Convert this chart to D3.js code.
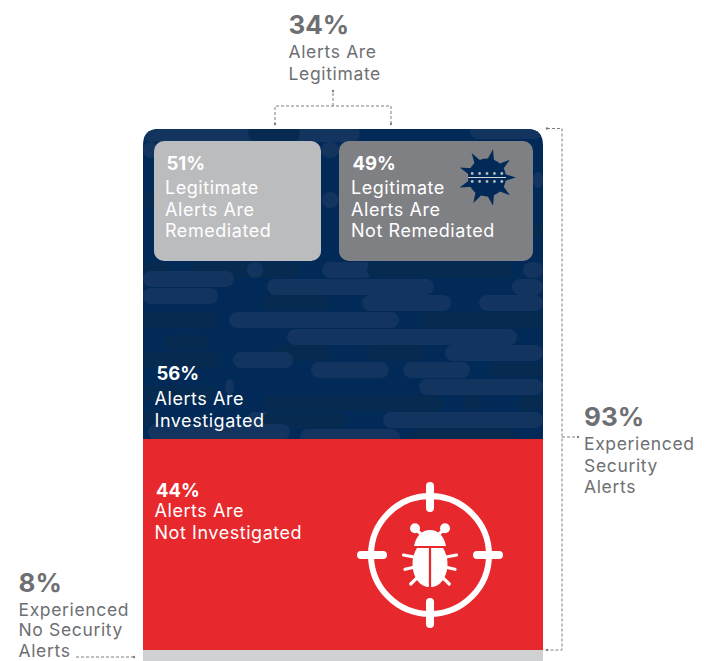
<!DOCTYPE html>
<html><head><meta charset="utf-8">
<script src="https://cdn.jsdelivr.net/npm/d3@7"></script>
<style>html,body{margin:0;padding:0;background:#fff}svg{display:block}text{font-family:Inter,"Open Sans",sans-serif}</style>
</head><body><svg id="c" width="710" height="661"></svg>
<script>
// values
const outerLabels = ["Experienced No Security Alerts", "Experienced Security Alerts"];
const outerValues = [8, 93];
const triageLabels = ["Alerts Are Not Investigated", "Alerts Are Investigated"];
const triageValues = [44, 56];
const investigatedLegit = 34;
const legitLabels = ["Legitimate Alerts Are Remediated", "Legitimate Alerts Are Not Remediated"];
const legitValues = [51, 49];
const barColors = ["#d0d1d3", "#e7282d", "#012a58"];
const cardColors = ["#bbbcbe", "#7f8084"];
const gray = "#6e6f73";

// decorative background pills: [x0, x1, row centre, tone]
const pills = [
 [143,360,134,1],[248,300,134,0],[470,543,131,1],
 [143,158,150,1],[321,339,150,1],[338,365,150,1],
 [143,158,200,0],[322,339,200,1],[533,543,180,1],[533,543,230,0],
 [143,172,270,0],[190,300,270,0],[247,263,270,1],[322,373,270,1],[367,512,270,0],[523,543,270,1],
 [143,234,279,1],[267,434,287,1],[512,543,287,1],
 [143,218,296,1],[263,329,303,0],[362,451,303,1],[479,543,303,1],
 [143,219,320,0],[229,399,320,1],[420,543,320,0],
 [287,517,337,1],[163,210,343,0],
 [273,332,353,0],[367,424,353,0],[445,543,353,1],
 [143,222,360,0],[233,293,360,1],
 [311,389,370,1],[403,470,370,1],[489,543,370,0],
 [419,543,387,1],[143,215,393,0],[225,234,387,1],
 [262,444,403,0],[465,482,403,0],[517,543,403,0],
 [383,543,420,1],[143,163,420,0],[247,302,420,1],[263,347,420,0],
 [148,290,432,1],[300,400,437,1],[410,516,437,0]
];
const spikeAngles = [-122,-78,-38,0,38,78,118,160,200];

const svg = d3.select("#c");
const defs = svg.append("defs");

// stacked bar with piecewise scale (the reference is a diagram, not to scale)
const shareRed = outerValues[1] * triageValues[0] / 100;
const y = d3.scaleLinear()
  .domain([0, outerValues[0], outerValues[0] + shareRed, d3.sum(outerValues)])
  .range([661, 650, 439, 129]);
const x = d3.scaleLinear().domain([0, 100]).range([143, 543]);
const cardX = d3.scaleLinear().domain([0, legitValues[0], 100]).range([154, 330, 533]);

const segs = [
 {a:0, b:outerValues[0], c:barColors[0]},
 {a:outerValues[0], b:outerValues[0]+shareRed, c:barColors[1]},
 {a:outerValues[0]+shareRed, b:d3.sum(outerValues), c:barColors[2]}
];
const r = 16;
const navyPath = d => {
  const x0=x(0),x1=x(100),t=y(d.b),b=y(d.a);
  return `M${x0},${b}V${t+r}Q${x0},${t} ${x0+r},${t}H${x1-r}Q${x1},${t} ${x1},${t+r}V${b}Z`;
};
defs.append("clipPath").attr("id","navy").append("path").attr("d", navyPath(segs[2]));

svg.append("g").selectAll("rect").data(segs.slice(0,2)).join("rect")
  .attr("x", x(0)).attr("width", x(100)-x(0))
  .attr("y", d=>y(d.b)).attr("height", d=>y(d.a)-y(d.b)).attr("fill", d=>d.c);
svg.append("path").attr("d", navyPath(segs[2])).attr("fill", barColors[2]);

const tones = ["#072a50", "#12345e"];
svg.append("g").attr("clip-path","url(#navy)").selectAll("rect").data(pills).join("rect")
  .attr("x", d=>d[0]).attr("width", d=>d[1]-d[0]).attr("y", d=>d[2]-8).attr("height",16)
  .attr("rx",8).attr("fill", d=>tones[d[3]]);

// cards
const cards = [
 {x0:cardX(0), x1:321, c:cardColors[0]},
 {x0:339, x1:cardX(100), c:cardColors[1]}
];
svg.append("g").selectAll("rect").data(cards).join("rect")
  .attr("x", d=>d.x0).attr("width", d=>d.x1-d.x0).attr("y",141).attr("height",120)
  .attr("rx",10).attr("fill", d=>d.c);

// text helper
function label(px, lines, opt) {
  const g = svg.append("g");
  g.append("text").attr("x", px + (opt.pctDx||0)).attr("y", opt.y)
    .attr("font-size", opt.pctSize).attr("font-weight",700).attr("fill", opt.color).text(opt.pct);
  lines.forEach((t,i)=> g.append("text").attr("x",px).attr("y",opt.y2 + i*opt.lh)
    .attr("font-size", opt.size).attr("letter-spacing", opt.ls).attr("fill",opt.color).text(t));
}
const pct = v => v + "%";
const W = {pctSize:18.5, size:18, color:"#fff", lh:21.5, ls:0.55};
const G = {pctSize:26, size:17.5, color:gray, ls:0.65};
label(288.5, ["Alerts Are","Legitimate"], {...G, pct:pct(investigatedLegit), y:34, y2:58, lh:22});
label(165, ["Legitimate","Alerts Are","Remediated"], {...W, pct:pct(legitValues[0]), pctDx:1.5, y:169.5, y2:194});
label(351, ["Legitimate","Alerts Are","Not Remediated"], {...W, pct:pct(legitValues[1]), pctDx:1.5, y:169.5, y2:194});
label(154.5, ["Alerts Are","Investigated"], {...W, pct:pct(triageValues[1]), pctDx:2, y:380, y2:405});
label(154.5, ["Alerts Are","Not Investigated"], {...W, pct:pct(triageValues[0]), pctDx:1.5, y:497, y2:517});
label(584, ["Experienced","Security","Alerts"], {...G, pct:pct(outerValues[1]), y:426, y2:450, lh:21.5});
label(18.5, ["Experienced","No Security","Alerts"], {...G, pct:pct(outerValues[0]), y:592, y2:615.5, lh:20.7});

// leaders
const dash = svg.append("g").attr("fill","none").attr("stroke","#7d7e81").attr("stroke-width",1).attr("stroke-dasharray","3 2");
dash.append("path").attr("d","M275,125V106H391V125");
dash.append("path").attr("d","M333,106V91");
dash.append("path").attr("d","M547,128.5H562V650H547");
dash.append("path").attr("d","M562,437H578");
dash.append("path").attr("d","M76,657H134");
svg.append("g").attr("fill","#7d7e81").selectAll("circle")
  .data([[275,124],[391,124],[333,91],[547,128.5],[578,437],[134,657],[547,650]]).join("circle")
  .attr("cx",d=>d[0]).attr("cy",d=>d[1]).attr("r",1.2);

// target + bug
const target = svg.append("g").attr("transform","translate(430,555)");
target.append("circle").attr("r",59).attr("fill","none").attr("stroke","#fff").attr("stroke-width",6);
target.selectAll("line.t").data([0,90,180,270]).join("line").attr("class","t")
  .attr("transform",d=>`rotate(${d})`).attr("y1",-47).attr("y2",-69)
  .attr("stroke","#fff").attr("stroke-width",8).attr("stroke-linecap","round");
[-1,1].forEach(s=>{
  const g = target.append("g").attr("transform",`scale(${s},1)`).attr("fill","#fff").attr("stroke","#fff");
  g.append("path").attr("stroke","none").attr("d","M1.1,-7H13C15.5,-3 17.5,2 17.5,9C17.5,22 10,32 1.1,32Z");
  g.append("circle").attr("cx",15).attr("cy",-26.7).attr("r",5).attr("stroke","none");
  [[15,-26.7,7,-19],[26.5,0,15,2.3],[25,14.3,16,12.3],[19.3,29,11.7,21.7]].forEach(p=>
    g.append("line").attr("x1",p[0]).attr("y1",p[1]).attr("x2",p[2]).attr("y2",p[3]).attr("stroke-width",3.2).attr("stroke-linecap","round"));
});
target.append("path").attr("fill","#fff").attr("d","M-16,-9C-14,-19 -8,-25 0,-25C8,-25 14,-19 16,-9Z");

// virus icon
const virus = svg.append("g").attr("transform","translate(487,177.5)");
virus.append("circle").attr("r",19).attr("fill",barColors[2]);
const rad = d=>d*Math.PI/180;
virus.selectAll("path").data(spikeAngles).join("path").attr("fill",barColors[2])
  .attr("d",a=>{
    const p=(an,rr)=>[rr*Math.cos(rad(an)),rr*Math.sin(rad(an))];
    return "M"+p(a-11,18)+"L"+p(a,29)+"L"+p(a+11,18)+"Z";
  });
virus.append("line").attr("x1",-19).attr("x2",19).attr("stroke","#d5d6d8").attr("stroke-width",1);
[-4,4].forEach(dy=>virus.append("g").selectAll("circle").data([-2,-1,0,1,2]).join("circle")
  .attr("cx",d=>d*7.4).attr("cy",dy).attr("r",1.4).attr("fill","#b9babc"));
</script></body></html>
